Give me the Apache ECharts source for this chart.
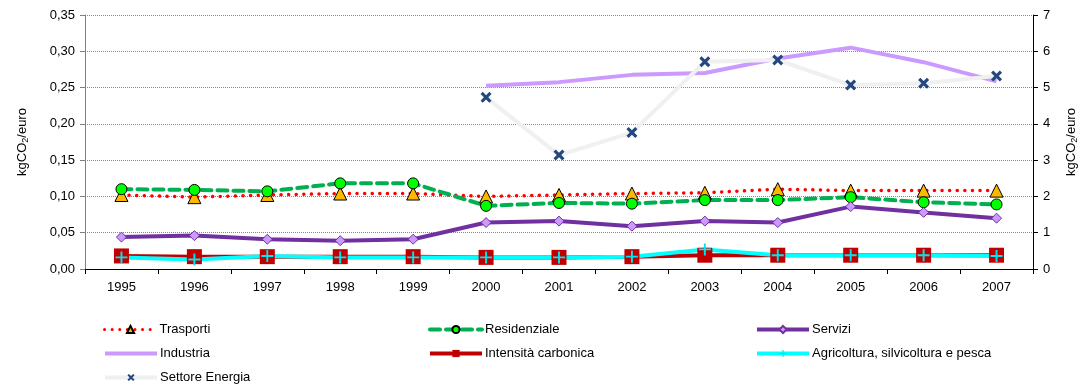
<!DOCTYPE html>
<html>
<head>
<meta charset="utf-8">
<script src="https://cdn.jsdelivr.net/npm/echarts@6/dist/echarts.min.js"></script>
<style>
  html, body { margin: 0; padding: 0; background: #fff; }
  #chart { width: 1087px; height: 387px; }
</style>
</head>
<body>
<div id="chart"></div>
<script>
// Anni
const years = ['1995','1996','1997','1998','1999','2000','2001','2002','2003','2004','2005','2006','2007'];

// Asse sinistro (kgCO2/euro)
const trasporti     = [0.102, 0.099, 0.102, 0.104, 0.104, 0.100, 0.102, 0.104, 0.105, 0.110, 0.108, 0.108, 0.108];
const residenziale  = [0.110, 0.109, 0.107, 0.118, 0.118, 0.087, 0.091, 0.090, 0.095, 0.095, 0.099, 0.092, 0.089];
const servizi       = [0.044, 0.046, 0.041, 0.039, 0.041, 0.064, 0.066, 0.059, 0.066, 0.064, 0.086, 0.078, 0.070];
const intensita     = [0.018, 0.017, 0.017, 0.017, 0.017, 0.016, 0.016, 0.017, 0.019, 0.019, 0.019, 0.019, 0.019];
const agricoltura   = [0.016, 0.013, 0.018, 0.016, 0.016, 0.016, 0.016, 0.017, 0.027, 0.019, 0.019, 0.019, 0.018];

// Asse destro (kgCO2/euro)
const industria     = [null, null, null, null, null, 5.05, 5.15, 5.35, 5.40, 5.80, 6.10, 5.70, 5.17];
const settoreEnergia= [null, null, null, null, null, 4.73, 3.14, 3.76, 5.71, 5.76, 5.07, 5.12, 5.32];

const leftTicks = ['0,00','0,05','0,10','0,15','0,20','0,25','0,30','0,35'];

const xSymbol = 'path://M2,0 L5,3 L8,0 L10,2 L7,5 L10,8 L8,10 L5,7 L2,10 L0,8 L3,5 L0,2 Z';
const plusSymbol = 'path://M4.2,0 H5.8 V4.2 H10 V5.8 H5.8 V10 H4.2 V5.8 H0 V4.2 H4.2 Z';

const font = 'Liberation Sans, Arial, sans-serif';
const unitName = '{a|kgCO}{s|2}{a|/euro}';
const unitRich = {
  a: { fontSize: 13, fontFamily: font, color: '#000' },
  s: { fontSize: 9, fontFamily: font, color: '#000', padding: [7, 0, 0, 0] }
};

const chart = echarts.init(document.getElementById('chart'), null, { renderer: 'canvas' });

// Legenda a tre colonne: una voce per componente, posizionata a griglia
const colX = [103, 428, 755];
const rowY = [323, 347, 371];
function legendItem(name, col, row, lineWidth, extra) {
  return {
    orient: 'horizontal',
    left: colX[col],
    top: rowY[row],
    padding: 0,
    itemWidth: 52,
    itemHeight: 9,
    selectedMode: false,
    lineStyle: { width: lineWidth },
    textStyle: { fontSize: 13, color: '#000', fontFamily: font, padding: [0, 0, 0, -2] },
    data: [Object.assign({ name: name }, extra || {})]
  };
}

chart.setOption({
  animation: false,
  backgroundColor: '#fff',
  grid: { left: 85, right: 46, top: 15, bottom: 118 },
  legend: [
    legendItem('Trasporti', 0, 0, 3),
    legendItem('Industria', 0, 1, 4, { itemStyle: { opacity: 0 } }),
    legendItem('Settore Energia', 0, 2, 4),
    legendItem('Residenziale', 1, 0, 4),
    legendItem('Intensità carbonica', 1, 1, 4),
    legendItem('Servizi', 2, 0, 4),
    legendItem('Agricoltura, silvicoltura e pesca', 2, 1, 4)
  ],
  xAxis: {
    type: 'category',
    data: years,
    boundaryGap: true,
    axisLine: { lineStyle: { color: '#000', width: 1 } },
    axisTick: { show: true, length: 5, lineStyle: { color: '#000' } },
    axisLabel: { fontSize: 13, color: '#000', fontFamily: font, margin: 12 }
  },
  yAxis: [
    {
      type: 'value',
      min: 0, max: 0.35, interval: 0.05,
      name: unitName,
      nameLocation: 'middle',
      nameRotate: 90,
      nameGap: 55,
      nameTextStyle: { rich: unitRich },
      axisLine: { show: true, lineStyle: { color: '#808080' } },
      axisTick: { show: true, length: 5, lineStyle: { color: '#808080' } },
      axisLabel: {
        fontSize: 13, color: '#000', fontFamily: font, margin: 10,
        formatter: v => leftTicks[Math.round(v / 0.05)]
      },
      splitLine: { show: true, lineStyle: { color: '#888', type: [1, 1], width: 1 } }
    },
    {
      type: 'value',
      min: 0, max: 7, interval: 1,
      name: unitName,
      nameLocation: 'middle',
      nameRotate: 90,
      nameGap: 30,
      nameTextStyle: { rich: unitRich },
      axisLine: { show: true, lineStyle: { color: '#000' } },
      axisTick: { show: true, length: 5, lineStyle: { color: '#000' } },
      axisLabel: { fontSize: 13, color: '#000', fontFamily: font, margin: 10 },
      splitLine: { show: false }
    }
  ],
  series: [
    {
      name: 'Trasporti', type: 'line', yAxisIndex: 0, data: trasporti,
      lineStyle: { color: '#FF0000', width: 3.5, type: [0.1, 7.5], cap: 'round' },
      symbol: 'triangle', symbolSize: 13,
      itemStyle: { color: '#FFB800', borderColor: '#000', borderWidth: 1 }
    },
    {
      name: 'Residenziale', type: 'line', yAxisIndex: 0, data: residenziale,
      lineStyle: { color: '#00B050', width: 4, type: [10, 6], cap: 'round' },
      symbol: 'circle', symbolSize: 11,
      itemStyle: { color: '#00FF00', borderColor: '#000', borderWidth: 1 }
    },
    {
      name: 'Servizi', type: 'line', yAxisIndex: 0, data: servizi,
      lineStyle: { color: '#7030A0', width: 4 },
      symbol: 'diamond', symbolSize: 10,
      itemStyle: { color: '#CC99FF', borderColor: '#7030A0', borderWidth: 1 }
    },
    {
      name: 'Industria', type: 'line', yAxisIndex: 1, data: industria,
      lineStyle: { color: '#CC99FF', width: 4 },
      symbol: 'none',
      itemStyle: { color: '#CC99FF' }
    },
    {
      name: 'Intensità carbonica', type: 'line', yAxisIndex: 0, data: intensita,
      lineStyle: { color: '#C00000', width: 4 },
      symbol: 'rect', symbolSize: 15,
      itemStyle: { color: '#C00000', borderColor: '#C00000', borderWidth: 0 }
    },
    {
      name: 'Agricoltura, silvicoltura e pesca', type: 'line', yAxisIndex: 0, data: agricoltura,
      lineStyle: { color: '#00FFFF', width: 4 },
      symbol: plusSymbol, symbolSize: 12,
      itemStyle: { color: '#00E5EE' }
    },
    {
      name: 'Settore Energia', type: 'line', yAxisIndex: 1, data: settoreEnergia,
      lineStyle: { color: '#F0F0F0', width: 4 },
      symbol: xSymbol, symbolSize: 11,
      itemStyle: { color: '#23487D' }
    }
  ]
});
</script>
</body>
</html>
